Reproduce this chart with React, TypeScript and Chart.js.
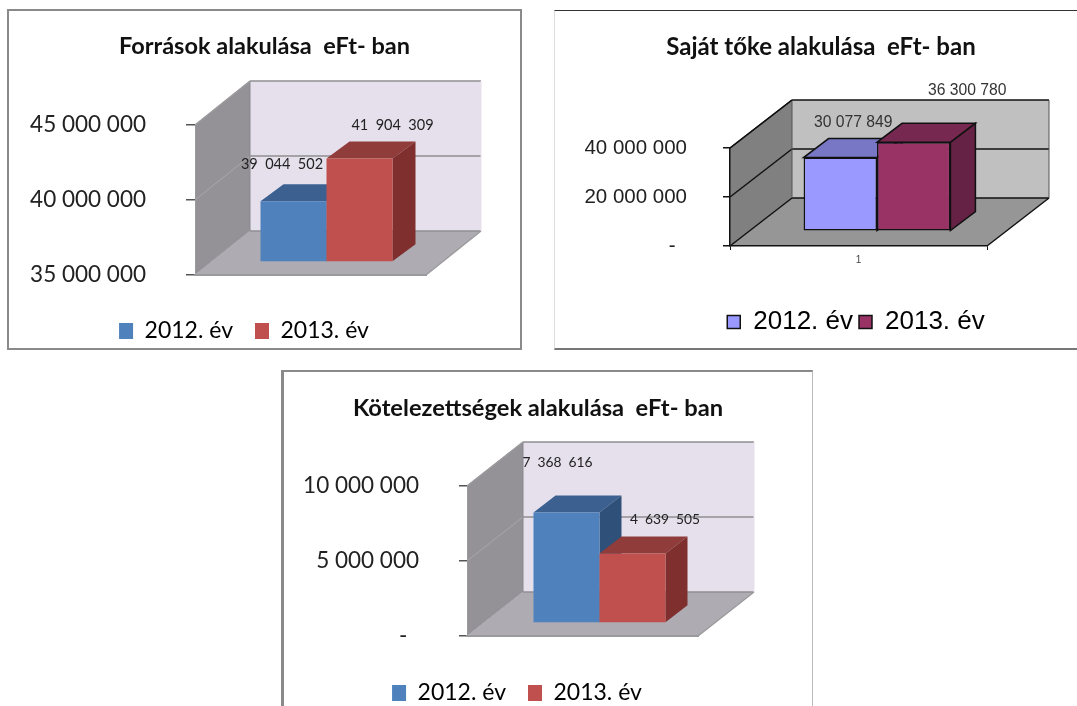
import React, { useEffect, useRef } from "react";
import { Chart, registerables } from "chart.js";

Chart.register(...registerables);

const seriesNames = ["2012. év", "2013. év"];

const forrasokValues = [39044502, 41904309];
const sajatTokeValues = [30077849, 36300780];
const kotelezettsegValues = [7368616, 4639505];

const lato = "Lato, Carlito, sans-serif";
const arial = "'Liberation Sans', Arial, sans-serif";

const office = {
  wall: "#E6E0EC", side: "#949297", floor: "#AEABB2",
  edge: "#9A9A9C", sideGrid: "#A9A8AC", backGrid: "#8F8F92", tick: "#555555",
  front: ["#4F81BD", "#C0504D"], top: ["#3C6190", "#903C3A"], right: ["#2F5078", "#7F302E"],
  barBorder: undefined as string | undefined, barBorderWidth: 0,
};
const classic = {
  wall: "#C0C0C0", side: "#808080", floor: "#969696",
  edge: "#111111", sideGrid: "#111111", backGrid: "#111111", tick: "#111111",
  front: ["#9999FF", "#993366"], top: ["#7777C6", "#772850"], right: ["#6666AA", "#662244"],
  barBorder: "#111111" as string | undefined, barBorderWidth: 1.5,
};

type Cfg = {
  title: string; values: number[]; min: number; max: number; step: number;
  frame: { x: number; y: number; w: number; h: number };
  frameCss: React.CSSProperties;
  plot: { left: number; right: number; top: number; bottom: number };
  depth: [number, number]; barShift: [number, number]; barDepth: [number, number];
  theme: typeof office; font: string; titleSize: number; tickSize: number; tickPad: number; tickLen: number;
  legendSize: number; legendCenter: [number, number]; legendGap: number; box: [number, number];
  titleCenter: [number, number]; labelSize: number; labelSep: string; labelOffsets: [number, number][];
  showCategory: boolean;
};

const charts: Cfg[] = [
  {
    title: "Források alakulása  eFt- ban", values: forrasokValues, min: 35000000, max: 45000000, step: 5000000,
    frame: { x: 7, y: 9, w: 515, h: 341 },
    frameCss: { border: "2px solid #8A8A8A" },
    plot: { left: 195, right: 426, top: 125, bottom: 275 },
    depth: [55, 44], barShift: [16, 13], barDepth: [23, 17],
    theme: office, font: lato, titleSize: 23.5, tickSize: 22.5, tickPad: 40, tickLen: 9,
    legendSize: 23, legendCenter: [244, 325], legendGap: 22, box: [14, 16],
    titleCenter: [264.5, 46], labelSize: 14.5, labelSep: "  ",
    labelOffsets: [[-11.5, -37], [33, -33]], showCategory: false,
  },
  {
    title: "Saját tőke alakulása  eFt- ban", values: sajatTokeValues, min: 0, max: 40000000, step: 20000000,
    frame: { x: 554, y: 10, w: 530, h: 340 },
    frameCss: { borderTop: "1px solid #333333", borderLeft: "1px solid #DDDDDD", borderBottom: "2px solid #777777" },
    plot: { left: 730, right: 987, top: 148, bottom: 246 },
    depth: [62, 48], barShift: [18.5, 14.7], barDepth: [25, 19],
    theme: classic, font: arial, titleSize: 24, tickSize: 20.5, tickPad: 36, tickLen: 7,
    legendSize: 26, legendCenter: [856, 324], legendGap: 6, box: [13, 13],
    titleCenter: [821, 47], labelSize: 15.7, labelSep: " ",
    labelOffsets: [[13, -35], [53.5, -52]], showCategory: true,
  },
  {
    title: "Kötelezettségek alakulása  eFt- ban", values: kotelezettsegValues, min: 0, max: 10000000, step: 5000000,
    frame: { x: 281, y: 370, w: 532, h: 345 },
    frameCss: { borderTop: "2px solid #8A8A8A", borderLeft: "3px solid #8A8A8A", borderRight: "1px solid #BBBBBB" },
    plot: { left: 467, right: 698, top: 486, bottom: 636 },
    depth: [56, 44], barShift: [17, 13], barDepth: [22, 17],
    theme: office, font: lato, titleSize: 23.7, tickSize: 22.5, tickPad: 40, tickLen: 8,
    legendSize: 23, legendCenter: [517, 687], legendGap: 22, box: [14, 16],
    titleCenter: [538, 408], labelSize: 13.8, labelSep: "  ",
    labelOffsets: [[-9, -50], [32.5, -33.5]], showCategory: false,
  },
];

const group = (v: number, sep: string) => String(Math.round(v)).replace(/\B(?=(\d{3})+(?!\d))/g, sep);

function poly(ctx: CanvasRenderingContext2D, pts: number[][], fill?: string, stroke?: string, lw = 1) {
  ctx.beginPath();
  pts.forEach((p, i) => (i ? ctx.lineTo(p[0], p[1]) : ctx.moveTo(p[0], p[1])));
  ctx.closePath();
  if (fill) { ctx.fillStyle = fill; ctx.fill(); }
  if (stroke && lw > 0) { ctx.strokeStyle = stroke; ctx.lineWidth = lw; ctx.stroke(); }
}
function seg(ctx: CanvasRenderingContext2D, a: number[], b: number[], c: string, lw: number) {
  ctx.beginPath(); ctx.moveTo(a[0], a[1]); ctx.lineTo(b[0], b[1]);
  ctx.strokeStyle = c; ctx.lineWidth = lw; ctx.stroke();
}

function makeChart(canvas: HTMLCanvasElement, c: Cfg) {
  const t = c.theme;
  const [dx, dy] = c.depth;
  const plugin = {
    id: "box3d",
    afterLayout(chart: any) {
      const title = chart.titleBlock;
      if (title) {
        const h = title.height;
        title.left = c.titleCenter[0] - c.frame.x - 260;
        title.right = c.titleCenter[0] - c.frame.x + 260;
        title.top = c.titleCenter[1] - c.frame.y - h / 2;
        title.bottom = title.top + h;
      }
      const lg = chart.legend;
      if (lg) {
        const w = lg.width, h = lg.height;
        lg.left = c.legendCenter[0] - c.frame.x - w / 2;
        lg.right = lg.left + w;
        lg.top = c.legendCenter[1] - c.frame.y - h / 2;
        lg.bottom = lg.top + h;
      }
    },
    beforeDraw(chart: any) {
      const { ctx, chartArea: a, scales } = chart;
      ctx.save();
      // back wall, side wall, floor
      poly(ctx, [[a.left + dx, a.top - dy], [a.right + dx, a.top - dy], [a.right + dx, a.bottom - dy], [a.left + dx, a.bottom - dy]], t.wall);
      poly(ctx, [[a.left, a.top], [a.left + dx, a.top - dy], [a.left + dx, a.bottom - dy], [a.left, a.bottom]], t.side);
      poly(ctx, [[a.left, a.bottom], [a.right, a.bottom], [a.right + dx, a.bottom - dy], [a.left + dx, a.bottom - dy]], t.floor);
      scales.y.ticks.forEach((tk: any) => {
        const y = scales.y.getPixelForValue(tk.value);
        seg(ctx, [a.left, y], [a.left + dx, y - dy], t.sideGrid, t === classic ? 1.5 : 1);
        seg(ctx, [a.left + dx, y - dy], [a.right + dx, y - dy], t.backGrid, 1.5);
      });
      seg(ctx, [a.left + dx, a.top - dy], [a.left + dx, a.bottom - dy], t === classic ? "#555555" : "#8A888D", 1);
      seg(ctx, [a.left, a.top], [a.left + dx, a.top - dy], t.edge, 1.5);
      seg(ctx, [a.right, a.bottom], [a.right + dx, a.bottom - dy], t.edge, 1.5);
      seg(ctx, [a.right + dx, a.top - dy], [a.right + dx, a.bottom - dy], t === classic ? "#555555" : t.wall, 1);
      ctx.restore();
    },
    // Bars are painted left to right so each one covers the side face of the one before it.
    beforeDatasetsDraw(chart: any) {
      const { ctx } = chart;
      const [bx, by] = c.barDepth;
      chart.data.datasets.forEach((ds: any, i: number) => {
        const meta = chart.getDatasetMeta(i);
        ctx.save();
        ctx.translate(c.barShift[0], -c.barShift[1]);
        meta.data.forEach((el: any) => {
          const { x, y, base, width } = el.getProps(["x", "y", "base", "width"], true);
          const l = x - width / 2, r = x + width / 2;
          poly(ctx, [[l, y], [r, y], [r + bx, y - by], [l + bx, y - by]], t.top[i], t.barBorder, t.barBorderWidth);
          poly(ctx, [[r, y], [r + bx, y - by], [r + bx, base - by], [r, base]], t.right[i], t.barBorder, t.barBorderWidth);
        });
        meta.controller.draw();
        ctx.restore();
      });
      ctx.save();
      ctx.font = `${c.labelSize}px ${c.font}`;
      ctx.fillStyle = t === classic ? "#333333" : "#222222";
      ctx.textAlign = "center";
      ctx.textBaseline = "middle";
      chart.data.datasets.forEach((ds: any, i: number) => {
        const el = chart.getDatasetMeta(i).data[0];
        ctx.fillText(
          group(ds.data[0], c.labelSep),
          el.x + c.barShift[0] + c.labelOffsets[i][0],
          el.y - c.barShift[1] + c.labelOffsets[i][1]
        );
      });
      ctx.restore();
      return false;
    },
  };

  const padding = { top: 0, left: 0, right: 0, bottom: 0 };
  const X = c.frame.x, Y = c.frame.y;
  const axisWidth = c.plot.left - X - 2;
  const chart = new Chart(canvas, {
    type: "bar",
    data: {
      labels: ["1"],
      datasets: seriesNames.map((name, i) => ({
        label: name,
        data: [c.values[i]],
        base: c.min,
        backgroundColor: t.front[i],
        borderColor: t.barBorder ?? t.front[i],
        borderWidth: t.barBorderWidth,
        borderSkipped: false,
        categoryPercentage: 0.5714,
        barPercentage: 1,
      })) as any,
    },
    options: {
      animation: false,
      responsive: false,
      layout: { padding },
      plugins: {
        tooltip: { enabled: false },
        title: {
          display: true, text: c.title, color: "#111111", padding: 0,
          font: { family: lato, size: c.titleSize, weight: "bold" },
        },
        legend: {
          display: true, position: "bottom",
          labels: {
            color: "#222222", boxWidth: c.box[0], boxHeight: c.box[1], padding: c.legendGap,
            font: { family: c.font, size: c.legendSize },
            generateLabels(ch: any) {
              return ch.data.datasets.map((d: any, i: number) => ({
                text: d.label, fillStyle: t.front[i], strokeStyle: t.barBorder ?? t.front[i],
                lineWidth: t.barBorderWidth, datasetIndex: i, hidden: false,
              }));
            },
          },
        },
      },
      scales: {
        x: {
          display: true,
          offset: true,
          grid: { display: c.showCategory, drawOnChartArea: false, drawTicks: c.showCategory, tickLength: 4, color: t.tick },
          border: { display: true, color: t.edge, width: t === classic ? 1.5 : 2 },
          ticks: { display: c.showCategory, color: "#444444", font: { family: c.font, size: 10 }, padding: 4 },
        },
        y: {
          min: c.min, max: c.max,
          afterFit(s: any) { s.width = axisWidth; },
          grid: { display: true, drawOnChartArea: false, tickLength: c.tickLen, color: t.tick, lineWidth: 1.5 },
          border: { display: true, color: t.edge, width: t === classic ? 1.5 : 1 },
          ticks: {
            stepSize: c.step, padding: c.tickPad, color: "#222222",
            font: { family: c.font, size: c.tickSize },
            callback: (v: any) => (Number(v) === 0 ? "-  " : group(Number(v), " ")),
          },
        },
      },
    } as any,
    plugins: [plugin as any],
  });

  // Bring the plot area to where the reference has it (the layout reacts to padding non-linearly)
  for (let pass = 0; pass < 4; pass++) {
    const a = chart.chartArea;
    padding.left = Math.max(0, padding.left + c.plot.left - X - a.left);
    padding.top = Math.max(0, padding.top + c.plot.top - Y - a.top);
    padding.right = Math.max(0, padding.right + a.right - (c.plot.right - X));
    padding.bottom = Math.max(0, padding.bottom + a.bottom - (c.plot.bottom - Y));
    (chart.options as any).layout.padding = { ...padding };
    chart.update();
  }
  return chart;
}

function Panel({ cfg }: { cfg: Cfg }) {
  const ref = useRef<HTMLCanvasElement>(null);
  useEffect(() => {
    const chart = makeChart(ref.current!, cfg);
    return () => chart.destroy();
  }, [cfg]);
  const { x, y, w, h } = cfg.frame;
  return (
    <>
      <canvas
        ref={ref}
        width={w}
        height={h}
        style={{ position: "absolute", left: x, top: y, width: w, height: h, filter: "blur(0.45px)" }}
      />
      <div style={{ position: "absolute", left: x, top: y, width: w, height: h, boxSizing: "border-box", pointerEvents: "none", ...cfg.frameCss }} />
    </>
  );
}

export default function App() {
  return (
    <div style={{ position: "absolute", left: 0, top: 0, width: 1077, height: 706, overflow: "hidden", background: "#FFFFFF" }}>
      {charts.map((c) => (
        <Panel key={c.title} cfg={c} />
      ))}
    </div>
  );
}
